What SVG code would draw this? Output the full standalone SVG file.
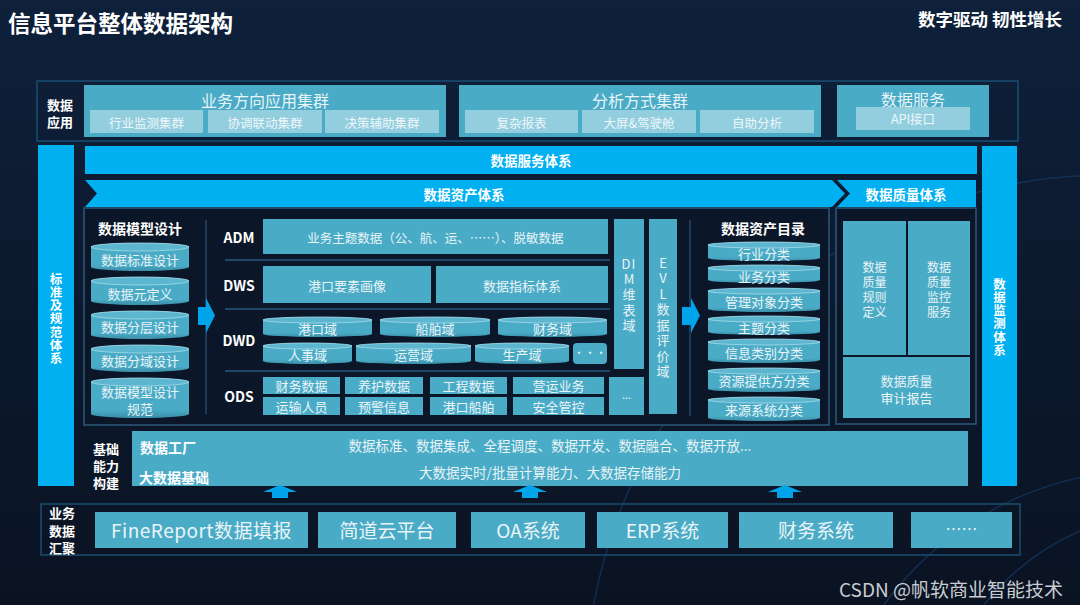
<svg xmlns="http://www.w3.org/2000/svg" width="1080" height="605" viewBox="0 0 1080 605">
<defs>
<linearGradient id="bgG" x1="0" y1="0" x2="0" y2="1">
<stop offset="0" stop-color="#0e203a"/><stop offset="1" stop-color="#0a1322"/>
</linearGradient>
<linearGradient id="cylG" x1="0" y1="0" x2="0" y2="1">
<stop offset="0" stop-color="#4aabc6"/><stop offset="0.8" stop-color="#4aabc6"/><stop offset="1" stop-color="#3a8ea8"/>
</linearGradient>
<style>
.bar{fill:#00b0f0}
.box{fill:#4aabc6}
.sub{fill:#93cedf}
.frame{fill:none;stroke:#1b4e72;stroke-width:1.5}
.panel{fill:#0b1728;stroke:#2b5a78;stroke-width:1.5}
.cyl{fill:url(#cylG)}
.cap{fill:#5db6cf;stroke:#a6dbe9;stroke-width:0.8}
.sep{stroke:#1d4866;stroke-width:2}
.vline{stroke:#24496a;stroke-width:1.5}
.arr{fill:#00a4ea}
text{font-family:"Noto Sans CJK SC","Noto Sans",sans-serif;dominant-baseline:central;text-anchor:middle}
.t{fill:#e9f4f8;font-size:13px}
.ts{fill:#eef7fa;font-size:12.5px}
.b{fill:#ffffff;font-weight:bold}
.vb{fill:#ffffff;font-weight:bold;font-size:12.5px;writing-mode:vertical-rl;text-anchor:start;letter-spacing:0.8px}
.vt{fill:#e9f4f8;font-size:13px;writing-mode:vertical-rl;text-orientation:upright;text-anchor:start;letter-spacing:2.5px}
.q{fill:#e9f4f8;font-size:12px}
.arc{fill:none;stroke:#1b4c86;stroke-width:1.5;opacity:0.45}
</style>
</defs>
<rect width="1080" height="605" fill="url(#bgG)"/>
<g id="background-arcs">
<circle class="arc" cx="1110" cy="700" r="525"/>
<circle class="arc" cx="1150" cy="800" r="330"/>
<circle class="arc" cx="1180" cy="760" r="250"/>
</g>

<g id="header">
<text x="8" y="22" class="b" style="font-size:22.5px;text-anchor:start">信息平台整体数据架构</text>
<text x="1062" y="18" class="b" style="font-size:17.5px;text-anchor:end">数字驱动 韧性增长</text>
</g>

<g id="data-application">
<rect x="37" y="81" width="981" height="60" class="frame" fill="#0c1a2e"/>
<text x="60" y="103.5" class="b" style="font-size:13px"><tspan x="60" dy="0">数据</tspan><tspan x="60" dy="17">应用</tspan></text>
</g>
<g id="biz-cluster">
<rect x="84" y="85" width="362" height="52" class="box"/>
<text x="265" y="100" class="t" style="font-size:16px">业务方向应用集群</text>
<rect x="90" y="110" width="113" height="23" class="sub"/>
<text x="146.5" y="122" class="ts">行业监测集群</text>
<rect x="208" y="110" width="114" height="23" class="sub"/>
<text x="265" y="122" class="ts">协调联动集群</text>
<rect x="325" y="110" width="114" height="23" class="sub"/>
<text x="382" y="122" class="ts">决策辅助集群</text>
</g>
<g id="analysis-cluster">
<rect x="459" y="85" width="362" height="52" class="box"/>
<text x="640" y="100" class="t" style="font-size:16px">分析方式集群</text>
<rect x="465" y="110" width="113" height="23" class="sub"/>
<text x="521.5" y="122" class="ts">复杂报表</text>
<rect x="582" y="110" width="114" height="23" class="sub"/>
<text x="639" y="122" class="ts">大屏&amp;驾驶舱</text>
<rect x="700" y="110" width="114" height="23" class="sub"/>
<text x="757" y="122" class="ts">自助分析</text>
</g>
<g id="data-service">
<rect x="837" y="85" width="152" height="52" class="box"/>
<text x="913" y="99" class="t" style="font-size:16px">数据服务</text>
<rect x="856" y="107" width="114" height="23" class="sub"/>
<text x="913" y="118.5" class="ts">API接口</text>
</g>

<g id="standards">
<rect x="38" y="145" width="36" height="341" class="bar"/>
<text x="56" y="272.5" class="vb">标准及规范体系</text>
</g>
<g id="monitoring">
<rect x="982" y="146" width="35" height="340" class="bar"/>
<text x="999.5" y="277.5" class="vb">数据监测体系</text>
</g>
<g id="service-system">
<rect x="85" y="146" width="892" height="28" class="bar"/>
<text x="531" y="160" class="b" style="font-size:13.5px">数据服务体系</text>
</g>
<g id="asset-system">
<polygon points="85,180 832,180 845,193.5 832,207 85,207 97,193.5" class="bar"/>
<text x="464" y="194" class="b" style="font-size:13.5px">数据资产体系</text>
</g>
<g id="quality-system">
<polygon points="837,180 976,180 976,207 837,207 850,193.5" class="bar"/>
<text x="906" y="194" class="b" style="font-size:13.5px">数据质量体系</text>
</g>

<g id="asset-panel">
<rect x="84" y="208" width="745" height="217" class="panel"/>
<line x1="206" y1="220" x2="206" y2="414" class="vline"/>
<line x1="690" y1="220" x2="690" y2="416" class="vline"/>
<line x1="225" y1="260" x2="610" y2="260" class="sep"/>
<line x1="225" y1="309" x2="610" y2="309" class="sep"/>
<line x1="225" y1="371" x2="610" y2="371" class="sep"/>
</g>

<g id="model-design">
<text x="140" y="228" class="b" style="font-size:14px">数据模型设计</text>
<path d="M91,247 A49,4 0 0 1 189,247 V267 A49,4 0 0 1 91,267 Z" class="cyl"/><ellipse cx="140" cy="247" rx="49" ry="4" class="cap"/>
<text x="140" y="259" class="t">数据标准设计</text>
<path d="M91,281 A49,4 0 0 1 189,281 V301 A49,4 0 0 1 91,301 Z" class="cyl"/><ellipse cx="140" cy="281" rx="49" ry="4" class="cap"/>
<text x="140" y="293" class="t">数据元定义</text>
<path d="M91,315 A49,4 0 0 1 189,315 V335 A49,4 0 0 1 91,335 Z" class="cyl"/><ellipse cx="140" cy="315" rx="49" ry="4" class="cap"/>
<text x="140" y="326.5" class="t">数据分层设计</text>
<path d="M91,349 A49,4 0 0 1 189,349 V368 A49,4 0 0 1 91,368 Z" class="cyl"/><ellipse cx="140" cy="349" rx="49" ry="4" class="cap"/>
<text x="140" y="360" class="t">数据分域设计</text>
<path d="M91,382 A49,4 0 0 1 189,382 V414 A49,4 0 0 1 91,414 Z" class="cyl"/><ellipse cx="140" cy="382" rx="49" ry="4" class="cap"/>
<text x="140" y="390.5" class="t"><tspan x="140" dy="0">数据模型设计</tspan><tspan x="140" dy="17">规范</tspan></text>
</g>

<g id="layer-labels">
<text x="239" y="237" class="b" style="font-size:14px">ADM</text>
<text x="239" y="285" class="b" style="font-size:14px">DWS</text>
<text x="239" y="340" class="b" style="font-size:14px">DWD</text>
<text x="239" y="396" class="b" style="font-size:14px">ODS</text>
</g>

<g id="adm">
<rect x="263" y="219" width="345" height="35" class="box"/>
<text x="435.5" y="237" class="t" style="font-size:12.5px">业务主题数据（公、航、运、……）、脱敏数据</text>
</g>
<g id="dws">
<rect x="263" y="266" width="168" height="37" class="box"/>
<text x="347" y="285" class="t">港口要素画像</text>
<rect x="436" y="266" width="172" height="37" class="box"/>
<text x="522" y="285" class="t">数据指标体系</text>
</g>
<g id="dwd">
<path d="M263,320 A54.5,3 0 0 1 372,320 V334 A54.5,3 0 0 1 263,334 Z" class="cyl"/><ellipse cx="317.5" cy="320" rx="54.5" ry="3" class="cap"/>
<text x="317.5" y="328" class="t">港口域</text>
<path d="M380,320 A55,3 0 0 1 490,320 V334 A55,3 0 0 1 380,334 Z" class="cyl"/><ellipse cx="435" cy="320" rx="55" ry="3" class="cap"/>
<text x="435" y="328" class="t">船舶域</text>
<path d="M498,320 A54.5,3 0 0 1 607,320 V334 A54.5,3 0 0 1 498,334 Z" class="cyl"/><ellipse cx="552.5" cy="320" rx="54.5" ry="3" class="cap"/>
<text x="552.5" y="328" class="t">财务域</text>
<path d="M263,346 A44.5,3 0 0 1 352,346 V361 A44.5,3 0 0 1 263,361 Z" class="cyl"/><ellipse cx="307.5" cy="346" rx="44.5" ry="3" class="cap"/>
<text x="307.5" y="354.5" class="t">人事域</text>
<path d="M356,346 A57.5,3 0 0 1 471,346 V361 A57.5,3 0 0 1 356,361 Z" class="cyl"/><ellipse cx="413.5" cy="346" rx="57.5" ry="3" class="cap"/>
<text x="413.5" y="354.5" class="t">运营域</text>
<path d="M475,346 A47,3 0 0 1 569,346 V361 A47,3 0 0 1 475,361 Z" class="cyl"/><ellipse cx="522" cy="346" rx="47" ry="3" class="cap"/>
<text x="522" y="354.5" class="t">生产域</text>
<rect x="573" y="343" width="34" height="21" rx="4" class="box"/>
<text x="590" y="352" class="t" style="font-size:11px">···</text>
</g>
<g id="ods">
<rect x="263" y="377" width="77" height="17" class="box"/><text x="301.5" y="385.5" class="t">财务数据</text>
<rect x="345" y="377" width="78" height="17" class="box"/><text x="384" y="385.5" class="t">养护数据</text>
<rect x="430" y="377" width="77" height="17" class="box"/><text x="468.5" y="385.5" class="t">工程数据</text>
<rect x="513" y="377" width="91" height="17" class="box"/><text x="558.5" y="385.5" class="t">营运业务</text>
<rect x="263" y="397" width="77" height="18" class="box"/><text x="301.5" y="406" class="t">运输人员</text>
<rect x="345" y="397" width="78" height="18" class="box"/><text x="384" y="406" class="t">预警信息</text>
<rect x="430" y="397" width="77" height="18" class="box"/><text x="468.5" y="406" class="t">港口船舶</text>
<rect x="513" y="397" width="91" height="18" class="box"/><text x="558.5" y="406" class="t">安全管控</text>
<rect x="609" y="377" width="35" height="38" class="box"/><text x="626.5" y="394" class="t" style="font-size:11px">...</text>
</g>
<g id="dim">
<rect x="614" y="219" width="30" height="150" class="box"/>
<text x="629" y="263" class="t" style="font-size:13px;letter-spacing:1px">DI</text>
<text x="629" y="272.5" class="vt">M维表域</text>
</g>
<g id="evl">
<rect x="649" y="219" width="28" height="195" class="box"/>
<text x="663" y="256.5" class="vt">EVL数据评价域</text>
</g>

<g id="asset-catalog">
<text x="763" y="228" class="b" style="font-size:14px">数据资产目录</text>
<path d="M708,245 A56,3 0 0 1 820,245 V258 A56,3 0 0 1 708,258 Z" class="cyl"/><ellipse cx="764" cy="245" rx="56" ry="3" class="cap"/>
<text x="764" y="253" class="t">行业分类</text>
<path d="M708,268 A56,3 0 0 1 820,268 V280 A56,3 0 0 1 708,280 Z" class="cyl"/><ellipse cx="764" cy="268" rx="56" ry="3" class="cap"/>
<text x="764" y="276" class="t">业务分类</text>
<path d="M708,291 A56,3 0 0 1 820,291 V309 A56,3 0 0 1 708,309 Z" class="cyl"/><ellipse cx="764" cy="291" rx="56" ry="3" class="cap"/>
<text x="764" y="301" class="t">管理对象分类</text>
<path d="M708,319 A56,3 0 0 1 820,319 V332 A56,3 0 0 1 708,332 Z" class="cyl"/><ellipse cx="764" cy="319" rx="56" ry="3" class="cap"/>
<text x="764" y="327" class="t">主题分类</text>
<path d="M708,342 A56,3 0 0 1 820,342 V360 A56,3 0 0 1 708,360 Z" class="cyl"/><ellipse cx="764" cy="342" rx="56" ry="3" class="cap"/>
<text x="764" y="352" class="t">信息类别分类</text>
<path d="M708,371 A56,3 0 0 1 820,371 V389 A56,3 0 0 1 708,389 Z" class="cyl"/><ellipse cx="764" cy="371" rx="56" ry="3" class="cap"/>
<text x="764" y="380" class="t">资源提供方分类</text>
<path d="M708,400 A56,3 0 0 1 820,400 V418 A56,3 0 0 1 708,418 Z" class="cyl"/><ellipse cx="764" cy="400" rx="56" ry="3" class="cap"/>
<text x="764" y="409" class="t">来源系统分类</text>
</g>

<g id="quality-panel">
<rect x="836" y="208" width="140" height="216" class="panel"/>
<rect x="843" y="221" width="63" height="134" class="box"/>
<text x="874.5" y="265.5" class="q"><tspan x="874.5" dy="0">数据</tspan><tspan x="874.5" dy="15.3">质量</tspan><tspan x="874.5" dy="15.3">规则</tspan><tspan x="874.5" dy="15.3">定义</tspan></text>
<rect x="908" y="221" width="62" height="134" class="box"/>
<text x="939" y="265.5" class="q"><tspan x="939" dy="0">数据</tspan><tspan x="939" dy="15.3">质量</tspan><tspan x="939" dy="15.3">监控</tspan><tspan x="939" dy="15.3">服务</tspan></text>
<rect x="843" y="357" width="127" height="61" class="box"/>
<text x="906.5" y="379.5" class="t"><tspan x="906.5" dy="0">数据质量</tspan><tspan x="906.5" dy="17">审计报告</tspan></text>
</g>

<g id="base-capability">
<text x="106" y="448" class="b" style="font-size:13px"><tspan x="106" dy="0">基础</tspan><tspan x="106" dy="17">能力</tspan><tspan x="106" dy="17">构建</tspan></text>
<rect x="132" y="431" width="836" height="55" class="box"/>
<text x="140" y="447" class="b" style="font-size:14px;text-anchor:start">数据工厂</text>
<text x="139" y="477" class="b" style="font-size:14px;text-anchor:start">大数据基础</text>
<text x="550" y="445" class="t" style="font-size:13.5px">数据标准、数据集成、全程调度、数据开发、数据融合、数据开放...</text>
<text x="550" y="472" class="t" style="font-size:13.5px">大数据实时/批量计算能力、大数据存储能力</text>
</g>

<g id="connectors">
<polygon points="198,307 206,307 206,298 215,315.5 206,333 206,325 198,325" class="arr"/>
<polygon points="682,307 691,307 691,298 700,315.5 691,333 691,325 682,325" class="arr"/>
<polygon points="280,485 297,492 288,492 288,498 272,498 272,492 263,492" class="arr"/>
<polygon points="530,485 547,492 538,492 538,498 522,498 522,492 513,492" class="arr"/>
<polygon points="785,485 802,492 793,492 793,498 777,498 777,492 768,492" class="arr"/>
</g>

<g id="business-aggregation">
<rect x="41" y="504" width="979" height="51" class="frame"/>
<text x="62" y="512" class="b" style="font-size:13px"><tspan x="62" dy="0">业务</tspan><tspan x="62" dy="17.5">数据</tspan><tspan x="62" dy="17.5">汇聚</tspan></text>
</g>
<g id="src-finereport"><rect x="95" y="512" width="213" height="36" class="box"/><text x="201.5" y="529" class="t" style="font-size:19px;letter-spacing:0.5px">FineReport数据填报</text></g>
<g id="src-jiandaoyun"><rect x="318" y="512" width="138" height="36" class="box"/><text x="387" y="529" class="t" style="font-size:19px">简道云平台</text></g>
<g id="src-oa"><rect x="471" y="512" width="114" height="36" class="box"/><text x="528" y="529" class="t" style="font-size:19px">OA系统</text></g>
<g id="src-erp"><rect x="597" y="512" width="131" height="36" class="box"/><text x="662.5" y="529" class="t" style="font-size:19px">ERP系统</text></g>
<g id="src-finance"><rect x="739" y="512" width="154" height="36" class="box"/><text x="816" y="529" class="t" style="font-size:19px">财务系统</text></g>
<g id="src-more"><rect x="911" y="512" width="101" height="36" class="box"/><text x="961.5" y="528" class="t" style="font-size:16px">……</text></g>

<text x="1063" y="588" style="font-size:19px;text-anchor:end;fill:#c8ccd2">CSDN @帆软商业智能技术</text>
</svg>
